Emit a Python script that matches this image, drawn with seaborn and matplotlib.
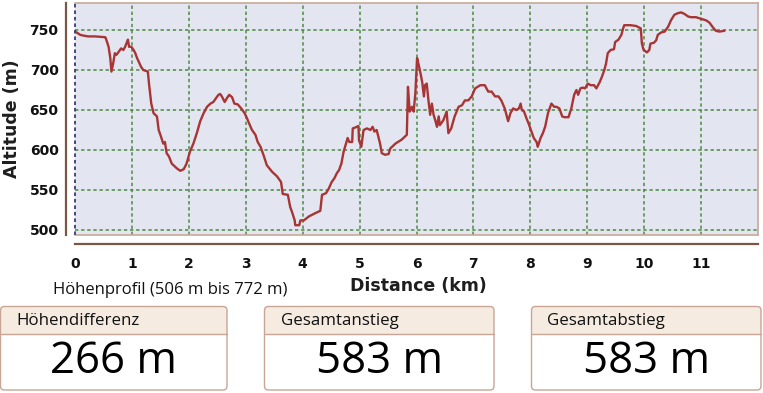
import matplotlib
matplotlib.use("Agg")
import matplotlib.pyplot as plt
from matplotlib.patches import FancyBboxPatch, Rectangle
import seaborn as sns
import pandas as pd

# ---------------- data ----------------
dist_km = [0.00, 0.05, 0.09, 0.15, 0.23, 0.35, 0.53, 0.54, 0.59, 0.62, 0.64, 0.67, 0.70, 0.73, 0.77,
           0.81, 0.85, 0.88, 0.93, 0.95, 0.99, 1.03, 1.06, 1.09, 1.11, 1.16, 1.20, 1.28, 1.30, 1.34,
           1.38, 1.44, 1.47, 1.51, 1.55, 1.58, 1.61, 1.65, 1.70, 1.73, 1.79, 1.85, 1.91, 1.96, 2.02,
           2.08, 2.14, 2.20, 2.26, 2.32, 2.38, 2.43, 2.48, 2.52, 2.55, 2.58, 2.63, 2.67, 2.71, 2.76,
           2.80, 2.86, 2.92, 2.98, 3.02, 3.06, 3.11, 3.17, 3.21, 3.26, 3.32, 3.37, 3.46, 3.55, 3.62,
           3.65, 3.74, 3.78, 3.82, 3.86, 3.87, 3.94, 3.96, 4.02, 4.11, 4.22, 4.31, 4.34, 4.41, 4.46,
           4.51, 4.56, 4.60, 4.64, 4.68, 4.72, 4.76, 4.79, 4.82, 4.87, 4.88, 4.92, 4.98, 4.99, 5.03,
           5.07, 5.13, 5.19, 5.23, 5.26, 5.30, 5.36, 5.39, 5.45, 5.51, 5.54, 5.63, 5.74, 5.83, 5.85,
           5.88, 5.92, 5.95, 5.98, 6.01, 6.04, 6.07, 6.10, 6.13, 6.15, 6.18, 6.21, 6.24, 6.27, 6.30,
           6.33, 6.36, 6.39, 6.41, 6.47, 6.53, 6.56, 6.61, 6.67, 6.74, 6.80, 6.85, 6.91, 6.97, 7.03,
           7.12, 7.20, 7.26, 7.32, 7.38, 7.44, 7.49, 7.55, 7.61, 7.65, 7.70, 7.75, 7.80, 7.83, 7.85,
           7.89, 7.93, 7.97, 8.02, 8.06, 8.11, 8.13, 8.18, 8.22, 8.26, 8.31, 8.37, 8.42, 8.46, 8.51,
           8.56, 8.60, 8.67, 8.72, 8.77, 8.81, 8.84, 8.88, 8.92, 8.96, 9.01, 9.06, 9.12, 9.16, 9.22,
           9.26, 9.30, 9.33, 9.36, 9.41, 9.47, 9.49, 9.55, 9.60, 9.63, 9.65, 9.76, 9.86, 9.94, 9.96,
           9.99, 10.05, 10.09, 10.11, 10.17, 10.21, 10.24, 10.30, 10.36, 10.42, 10.47, 10.53, 10.59,
           10.65, 10.71, 10.77, 10.82, 10.91, 11.00, 11.09, 11.15, 11.20, 11.26, 11.32, 11.41]
alt_m = [748, 746, 744, 743, 742, 742, 741, 740, 729, 715, 698, 708, 721, 719, 723,
         727, 725, 729, 738, 729, 729, 725, 721, 715, 712, 704, 700, 698, 683, 658,
         646, 642, 625, 617, 608, 610, 596, 592, 583, 581, 577, 574, 576, 583, 598,
         608, 621, 636, 646, 654, 658, 660, 665, 669, 670, 667, 660, 665, 669, 666,
         658, 657, 652, 646, 640, 633, 625, 619, 610, 604, 592, 581, 573, 567, 560,
         545, 544, 529, 521, 512, 506, 506, 512, 512, 517, 521, 524, 544, 546, 552,
         560, 565, 571, 575, 583, 598, 608, 615, 610, 610, 627, 628, 630, 612, 604,
         625, 627, 625, 629, 623, 625, 608, 596, 594, 595, 602, 608, 613, 619, 679,
         648, 654, 648, 671, 715, 706, 696, 685, 667, 681, 683, 662, 644, 658, 644,
         637, 629, 642, 631, 637, 648, 621, 627, 642, 654, 656, 662, 662, 667, 677,
         681, 681, 673, 673, 667, 667, 662, 652, 636, 646, 652, 650, 652, 658, 650,
         648, 640, 633, 623, 615, 610, 604, 615, 621, 629, 646, 658, 654, 654, 652,
         642, 641, 641, 652, 669, 675, 669, 677, 678, 677, 683, 681, 681, 677, 685,
         692, 700, 708, 721, 725, 726, 735, 738, 744, 752, 756, 756, 755, 752, 733,
         725, 722, 725, 733, 734, 737, 744, 747, 748, 754, 762, 769, 771,
         772, 770, 767, 766, 766, 764, 762, 759, 754, 749, 748, 749]

x_ticks = [0, 1, 2, 3, 4, 5, 6, 7, 8, 9, 10, 11]
y_ticks = [500, 550, 600, 650, 700, 750]
x_label = "Distance (km)"
y_label = "Altitude (m)"
summary_title = "Höhenprofil (506 m bis 772 m)"
panel_titles = ["Höhendifferenz", "Gesamtanstieg", "Gesamtabstieg"]
panel_values = ["266 m", "583 m", "583 m"]

# ---------------- style ----------------
sns.set_theme(style="white")
plt.rcParams["font.family"] = ["DejaVu Sans"]

W, H = 763, 393
fig = plt.figure(figsize=(W / 100, H / 100), dpi=100)
fig.patch.set_facecolor("white")

def px_box(x0, y0, x1, y1):
    return [x0 / W, 1 - y1 / H, (x1 - x0) / W, (y1 - y0) / H]

AX_L, AX_T, AX_R, AX_B = 75, 3, 758, 235
ax = fig.add_axes(px_box(AX_L, AX_T, AX_R, AX_B))
ax.set_facecolor("#e3e6f0")

df = pd.DataFrame({"Distance": dist_km, "Altitude": alt_m})
sns.lineplot(data=df, x="Distance", y="Altitude", ax=ax, color="#a83535",
             linewidth=1.7, sort=False, estimator=None, zorder=5)

ax.set_xlim(0, 12)
ax.set_ylim(493.75, 783.75)
ax.set_xticks(x_ticks)
ax.set_yticks(y_ticks)
ax.set_xticklabels([str(t) for t in x_ticks])
ax.set_yticklabels([str(t) for t in y_ticks])

# grid
grid_kw = dict(color="#4f8a45", linewidth=1.1, linestyle=(0, (2.2, 1.8)), zorder=1)
for xv in x_ticks[1:]:
    ax.axvline(xv, **grid_kw)
for yv in y_ticks:
    ax.axhline(yv, **grid_kw)

# box border
for s in ["top", "right"]:
    ax.spines[s].set_color("#c9a898")
    ax.spines[s].set_linewidth(1.2)
ax.plot([0, 1], [0, 0], transform=ax.transAxes, color="#c9a898", lw=1.2,
        clip_on=False, zorder=6)
ax.plot([0, 0], [0, 1], transform=ax.transAxes, color="#3b3b78", lw=1.3,
        linestyle=(0, (2, 1.6)), clip_on=False, zorder=6)

# offset axes spines
for s in ["left", "bottom"]:
    ax.spines[s].set_position(("outward", 6.3))
    ax.spines[s].set_color("#7a5646")
    ax.spines[s].set_linewidth(1.6)
ax.tick_params(axis="both", direction="out", length=3.5, width=1.2, color="#7a5646",
               labelsize=10, labelcolor="#111111")
ax.tick_params(axis="y", pad=2)
ax.tick_params(axis="x", pad=6)
for lab in ax.get_xticklabels() + ax.get_yticklabels():
    lab.set_fontweight("bold")

ax.set_xlabel(x_label, fontsize=12.5, fontweight="bold", color="#1e1e1e")
ax.set_ylabel(y_label, fontsize=12.5, fontweight="bold", color="#1e1e1e")
ax.xaxis.set_label_coords((418 - AX_L) / (AX_R - AX_L), -(277 - AX_B) / (AX_B - AX_T))
ax.yaxis.set_label_coords(-(AX_L - 21) / (AX_R - AX_L), (AX_B - 119) / (AX_B - AX_T))

# ---------------- summary panels ----------------
ov = fig.add_axes([0, 0, 1, 1])
ov.set_xlim(0, W)
ov.set_ylim(H, 0)
ov.axis("off")
ov.patch.set_alpha(0)

panel_font = ["Open Sans", "DejaVu Sans"]
ov.text(53, 290, summary_title, fontsize=12, family=panel_font, color="#111111",
        ha="left", va="center")

border = "#c8a595"
header_fill = "#f6ebe0"
boxes = [(0.5, 227), (264.5, 494), (531.5, 761)]
top, mid, bottom = 306.5, 334, 390
for (x0, x1), title, value in zip(boxes, panel_titles, panel_values):
    r = 4
    ov.add_patch(FancyBboxPatch((x0, top), x1 - x0, bottom - top,
                                boxstyle=f"round,pad=0,rounding_size={r}",
                                facecolor="white", edgecolor="none", zorder=1))
    ov.add_patch(FancyBboxPatch((x0, top), x1 - x0, (mid - top) + 6,
                                boxstyle=f"round,pad=0,rounding_size={r}",
                                facecolor=header_fill, edgecolor="none", zorder=2))
    ov.add_patch(Rectangle((x0, mid), x1 - x0, 7, facecolor="white",
                           edgecolor="none", zorder=3))
    ov.plot([x0, x1], [mid, mid], color=border, lw=1.0, zorder=4)
    ov.add_patch(FancyBboxPatch((x0, top), x1 - x0, bottom - top,
                                boxstyle=f"round,pad=0,rounding_size={r}",
                                facecolor="none", edgecolor=border, lw=1.0, zorder=5))
    ov.text(x0 + 16, (top + mid) / 2 + 0.5, title, fontsize=12.2, family=panel_font,
            color="#111111", ha="left", va="center", zorder=6)
    ov.text((x0 + x1) / 2, 362, value, fontsize=31.5, family=panel_font,
            color="#000000", ha="center", va="center", zorder=6)

fig.savefig("out.png", dpi=100)
